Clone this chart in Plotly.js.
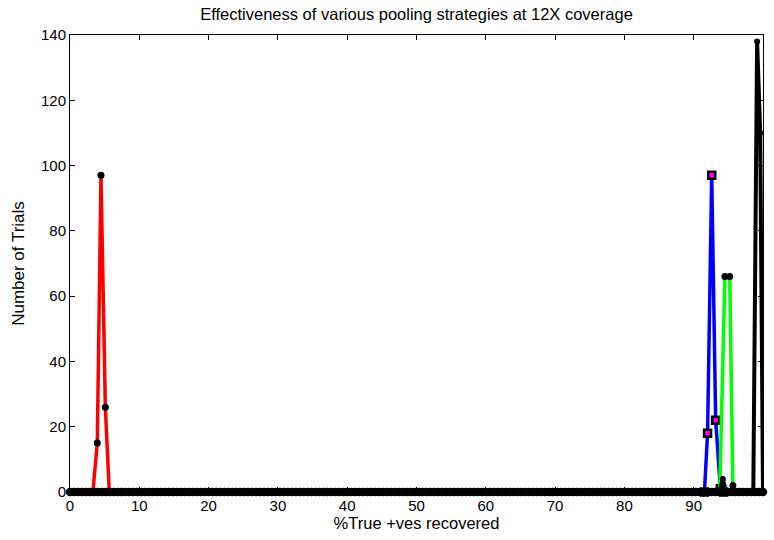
<!DOCTYPE html>
<html>
<head>
<meta charset="utf-8">
<script src="https://cdn.plot.ly/plotly-3.0.1.min.js"></script>
<style>
  html, body { margin: 0; padding: 0; background: #fff; }
  #chart { width: 774px; height: 540px; }
</style>
</head>
<body>
<div id="chart"></div>
<script>
// Histogram bins (% true positives recovered) — zero-count bins drawn as baseline markers
const bins = [
  0,0.57,1.14,1.71,2.29,2.86,3.43,4,4.57,5.14,5.71,6.29,6.86,7.43,8,8.57,9.14,9.71,10.29,10.86,11.43,12,12.57,13.14,13.71,14.29,14.86,15.43,16,16.57,17.14,17.71,18.29,18.86,19.43,
  20,20.57,21.14,21.71,22.29,22.86,23.43,24,24.57,25.14,25.71,26.29,26.86,27.43,28,28.57,29.14,29.71,30.29,30.86,31.43,32,32.57,33.14,33.71,34.29,34.86,35.43,36,36.57,37.14,37.71,38.29,38.86,39.43,
  40,40.57,41.14,41.71,42.29,42.86,43.43,44,44.57,45.14,45.71,46.29,46.86,47.43,48,48.57,49.14,49.71,50.29,50.86,51.43,52,52.57,53.14,53.71,54.29,54.86,55.43,56,56.57,57.14,57.71,58.29,58.86,59.43,
  60,60.57,61.14,61.71,62.29,62.86,63.43,64,64.57,65.14,65.71,66.29,66.86,67.43,68,68.57,69.14,69.71,70.29,70.86,71.43,72,72.57,73.14,73.71,74.29,74.86,75.43,76,76.57,77.14,77.71,78.29,78.86,79.43,
  80,80.57,81.14,81.71,82.29,82.86,83.43,84,84.57,85.14,85.71,86.29,86.86,87.43,88,88.57,89.14,89.71,90.29,90.86,91.43,92,92.57,93.14,93.71,94.29,94.86,95.43,96,96.57,97.14,97.71,98.29,98.86,99.43,
  100
];

// Red strategy
const redX = [3.3, 3.94, 4.47, 5.1, 5.67];
const redY = [0, 15, 97, 26, 0];
// Blue strategy
const blueX = [91.55, 92.0, 92.6, 93.17, 93.85, 94.3];
const blueY = [0, 18, 97, 22, 1, 0];
// Green strategy
const greenX = [93.75, 94.5, 95.2, 95.65, 96.1];
const greenY = [0, 66, 66, 2, 0];
// Black strategy (small side count plus main peak)
const blackX = [93.7, 94.2, 94.7, 98.6, 99.15, 99.6, 100];
const blackY = [0, 4, 0, 0, 138, 110, 0];

const xTicks = [0,10,20,30,40,50,60,70,80,90,100];
const yTicks = [0,20,40,60,80,100,120,140];

const font = 'Arial, "Liberation Sans", sans-serif';

const traces = [
  {
    x: redX, y: redY, mode: 'lines+markers', cliponaxis: false,
    line: {color: '#ff0000', width: 3.5},
    marker: {symbol: 'circle', size: 7, color: '#000'}
  },
  {
    x: blueX, y: blueY, mode: 'lines+markers', cliponaxis: false,
    line: {color: '#0000ff', width: 3.5},
    marker: {symbol: 'square', size: 7, color: '#ff00ff', line: {color: '#000', width: 2.5}}
  },
  {
    x: greenX, y: greenY, mode: 'lines+markers', cliponaxis: false,
    line: {color: '#00ff00', width: 3.5},
    marker: {symbol: 'circle', size: 7, color: '#000'}
  },
  {
    x: blackX, y: blackY, mode: 'lines+markers', cliponaxis: false,
    line: {color: '#000', width: 4},
    marker: {symbol: 'circle', size: 6, color: '#000'}
  },
  {
    x: bins, y: bins.map(() => 0), mode: 'markers', cliponaxis: false,
    marker: {symbol: 'circle', size: 8.5, color: '#000'}
  }
];

const axisCommon = {
  showline: true, linecolor: '#000', linewidth: 1, mirror: 'ticks',
  ticks: 'inside', ticklen: 5, tickcolor: '#000', tickwidth: 1,
  showgrid: false, zeroline: false,
  tickfont: {family: font, size: 15, color: '#000'}
};

const layout = {
  width: 774, height: 540,
  margin: {l: 70, r: 11, t: 35, b: 48},
  paper_bgcolor: '#fff', plot_bgcolor: '#fff',
  showlegend: false,
  title: {
    text: 'Effectiveness of various pooling strategies at 12X coverage',
    font: {family: font, size: 16.5, color: '#000'},
    x: 0.5, xref: 'paper', y: 0.973, yanchor: 'middle'
  },
  xaxis: Object.assign({}, axisCommon, {
    range: [0, 100], tickvals: xTicks, ticktext: xTicks.map(String),
    title: {text: '%True +ves recovered', font: {family: font, size: 16.5, color: '#000'}, standoff: 4}
  }),
  yaxis: Object.assign({}, axisCommon, {
    range: [0, 140], tickvals: yTicks, ticktext: yTicks.map(String),
    title: {text: 'Number of Trials', font: {family: font, size: 17, color: '#000'}, standoff: 12}
  })
};

Plotly.newPlot('chart', traces, layout, {displayModeBar: false, staticPlot: true});
</script>
</body>
</html>
